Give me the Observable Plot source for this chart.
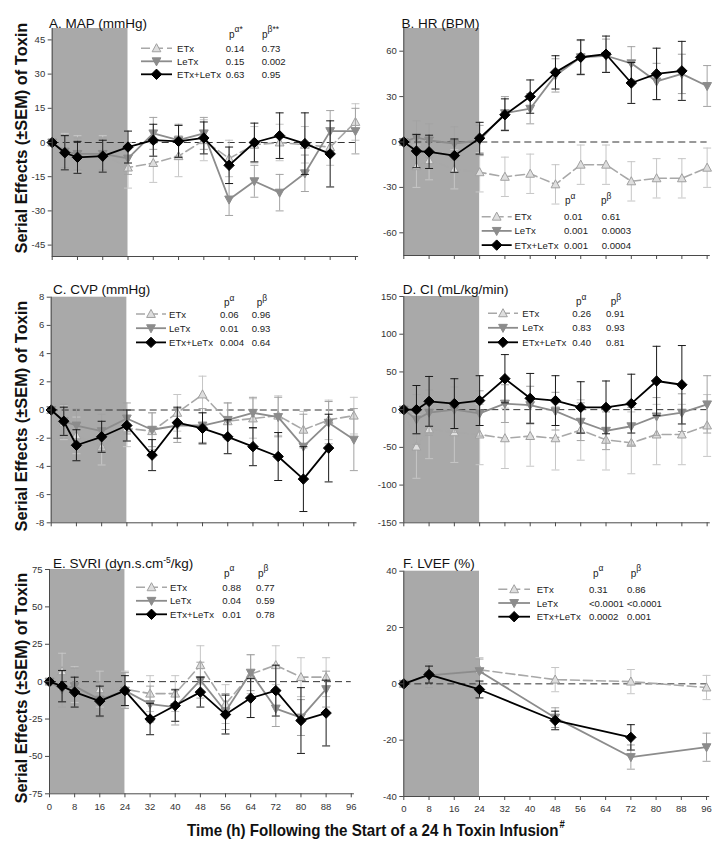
<!DOCTYPE html>
<html><head><meta charset="utf-8">
<script src="https://cdn.jsdelivr.net/npm/d3@7"></script>
<script src="https://cdn.jsdelivr.net/npm/@observablehq/plot@0.6"></script>
<style>
html,body{margin:0;padding:0;background:#fff;}
#fig{position:relative;width:720px;height:849px;font-family:"Liberation Sans",Arial,sans-serif;overflow:hidden;}
#fig svg.panel{position:absolute;}
#overlay{position:absolute;left:0;top:0;pointer-events:none;}
</style></head><body><div id="fig"></div>
<script>
// ---------------- data ----------------
const hours = [0,4,8,16,24,32,40,48,56,64,72,80,88,96];
const hoursF = [0,8,24,48,72,96];
const xTicks = [0,8,16,24,32,40,48,56,64,72,80,88,96];
const infusion = [0,24];
const seriesNames = ["ETx","LeTx","ETx+LeTx"];

// A. MAP
const mapE  = [0,-4,-5,-5,-11,-9,-6,1,-7,-1,0,-1,-2,9];
const mapEs = [0,8,8,8,9,8.5,9,9,8,8,8,8,8,8];
const mapL  = [0,-4,-5,-5,-7,4,1,4,-25,-17,-22,-13.5,5,5];
const mapLs = [0,7,7,7,7,7,7,7,7,7,8,8,9,10];
const mapB  = [0,-4.5,-6.5,-6,-2,1,0.5,2,-10,0,3,-0.5,-5,null];
const mapBs = [0,7.5,7,7,7,7,7,7,8,8.5,10,13.5,14.5,null];
const mapTicks = [-45,-30,-15,0,15,30,45];
const mapP = [["0.14","0.73"],["0.15","0.002"],["0.63","0.95"]];

// B. HR
const hrE  = [0,-16,-12,-18,-20,-23,-21,-28,-15,-15,-26,-24,-24,-17];
const hrEs = [0,14,13,13,13,13,13,13,13,13,13,13,13,13];
const hrL  = [0,3,1,-1,1,19,22,44,56,57,52,40,45,37];
const hrLs = [0,11,11,11,10,11,10,11,11,11,11,12,13,13.5];
const hrB  = [0,-6,-6.5,-9,2.5,18,30,46,56,58,39,45,47,null];
const hrBs = [0,11,11,11,10.5,10.5,11,11,11.5,12,13.5,17,19.5,null];
const hrTicks = [-60,-30,0,30,60];
const hrP = [["0.01","0.61"],["0.001","0.0003"],["0.001","0.0004"]];

// C. CVP
const cvpE  = [0,-0.9,-1.8,-2.6,-1.3,-1.5,-0.2,1.1,-0.8,-0.6,-0.4,-1.4,-0.7,-0.4];
const cvpEs = [0,1.2,1.3,1.3,1.3,1.3,1.3,1.3,1.3,1.4,1.4,1.3,1.4,1.3];
const cvpL  = [0,-0.8,-1.1,-1.5,-0.6,-1.4,-1.1,-1.1,-0.7,-0.2,-0.5,-2.6,-0.9,-2.1];
const cvpLs = [0,1.2,1.2,1.2,1.1,1.2,1.2,1.2,1.2,1.1,1.4,2.3,1.5,2.2];
const cvpB  = [0,-0.8,-2.5,-1.9,-1.1,-3.2,-0.9,-1.3,-1.9,-2.6,-3.3,-4.9,-2.7,null];
const cvpBs = [0,1.0,1.1,1.1,1.1,1.1,1.1,1.1,1.2,1.35,1.7,2.3,2.4,null];
const cvpTicks = [-8,-6,-4,-2,0,2,4,6,8];
const cvpP = [["0.06","0.96"],["0.01","0.93"],["0.004","0.64"]];

// D. CI
const ciE  = [0,-49,-26,-30,-33,-38,-35,-38,-27,-40,-44,-33,-33,-21];
const ciEs = [0,42,39,40,40,40,40,42,40,40,41,40,40,41];
const ciL  = [0,-13,-4,0,-5,8,6,-2,-16,-28,-22,-9,-4,7];
const ciLs = [0,33,30,30,30,25,25,25,25,25,25,25,25,38];
const ciB  = [0,0,11,8,12,41,15,12,3,3,8,38,33,null];
const ciBs = [0,32,33,33,33,32,33,33,34,35,39,46,52,null];
const ciTicks = [-150,-100,-50,0,50,100,150];
const ciP = [["0.26","0.91"],["0.83","0.93"],["0.40","0.81"]];

// E. SVRI
const svE  = [0,7,-2,-5,-5,-8,-8,11,-15,5,11,3,3,null];
const svEs = [0,12,12,12,12,12,12,13,13,13,13,13,13,null];
const svL  = [0,-5,-3,-12,-6,-15,-17,1,-20,6,-18,-24,-5,null];
const svLs = [0,12,12,12,12,12,12,12,12,12,12,12,12,null];
const svB  = [0,-3,-7,-13,-6,-25,-16,-7,-22,-11,-6,-26,-21,null];
const svBs = [0,10.5,10,10,10,10.5,10.5,10,13,13,17,22,22,null];
const svTicks = [-75,-50,-25,0,25,50,75];
const svP = [["0.88","0.77"],["0.04","0.59"],["0.01","0.78"]];

// F. LVEF
const lvE  = [0,3,5,1.5,0.8,-1.3];
const lvEs = [0,4.3,4.3,4.3,4.3,4.3];
const lvL  = [0,3,4.5,-12,-26,-22.5];
const lvLs = [0,4.3,4.3,3.5,4.3,5];
const lvB  = [0,3.3,-2,-13,-19,null];
const lvBs = [0,3,3,3.3,4.5,null];
const lvTicks = [-40,-20,0,20,40];
const lvP = [["0.31","0.86"],["<0.0001","<0.0001"],["0.0002","0.001"]];

// ---------------- symbols ----------------
const rOf = size => Math.sqrt(size / Math.PI);
const cap = {draw(c, s){const r = rOf(s); c.moveTo(-r,0); c.lineTo(r,0);}};
const triUp = {draw(c, s){const r = rOf(s); c.moveTo(0,-r); c.lineTo(r*0.95,r*0.75); c.lineTo(-r*0.95,r*0.75); c.closePath();}};
const triDown = {draw(c, s){const r = rOf(s); c.moveTo(0,r); c.lineTo(r*0.95,-r*0.75); c.lineTo(-r*0.95,-r*0.75); c.closePath();}};
const diamond = {draw(c, s){const r = rOf(s); c.moveTo(0,-r); c.lineTo(r,0); c.lineTo(0,r); c.lineTo(-r,0); c.closePath();}};

const styles = [
  {line:"#a8a8a8", dash:"9,4", width:1.6, err:"#c6c6c6", sym:triUp, r:4.6, fill:"#dedede", stroke:"#a0a0a0"},
  {line:"#8c8c8c", dash:null, width:1.8, err:"#a3a3a3", sym:triDown, r:4.6, fill:"#8c8c8c", stroke:"#8c8c8c"},
  {line:"#000000", dash:null, width:1.8, err:"#1a1a1a", sym:diamond, r:5.2, fill:"#000", stroke:"#000"}
];

// ---------------- panels ----------------
const panels = [
  {title:[["A. MAP (mmHg)"]], tx:49, ty:23, t:hours, vals:[mapE,mapL,mapB], sems:[mapEs,mapLs,mapBs], yDomain:[-50,50], yTicks:mapTicks, xLabels:false,
   box:{left:0,top:0,w:360,h:280,mL:51.7,mR:1.9,mT:28,mB:24}, p:mapP, heads:["α*","β**"],
   leg:{x1:141,x2:172,y:48.3,dy:13,lab:177,c1:225.7,c2:261.7,hy:37.5,h1:229,h2:262}},
  {title:[["B. HR (BPM)"]], tx:401.5, ty:23, t:hours, vals:[hrE,hrL,hrB], sems:[hrEs,hrLs,hrBs], yDomain:[-75,75], yTicks:hrTicks, xLabels:false,
   box:{left:360,top:0,w:360,h:280,mL:43.3,mR:10.2,mT:28,mB:25}, p:hrP, heads:["α","β"],
   leg:{x1:481.7,x2:511.7,y:216.7,dy:14.2,lab:514.5,c1:564,c2:601.7,hy:204,h1:565,h2:601}},
  {title:[["C. CVP (mmHg)"]], tx:53, ty:289, t:hours, vals:[cvpE,cvpL,cvpB], sems:[cvpEs,cvpLs,cvpBs], yDomain:[-8,8], yTicks:cvpTicks, xLabels:false,
   box:{left:0,top:280,w:360,h:280,mL:50.7,mR:3.5,mT:16.7,mB:37.7}, p:cvpP, heads:["α","β"],
   leg:{x1:136,x2:166,y:314,dy:14.2,lab:169,c1:220,c2:251.7,hy:306,h1:224,h2:256.7}},
  {title:[["D. CI (mL/kg/min)"]], tx:402.7, ty:289, t:hours, vals:[ciE,ciL,ciB], sems:[ciEs,ciLs,ciBs], yDomain:[-150,150], yTicks:ciTicks, xLabels:false,
   box:{left:360,top:280,w:360,h:280,mL:43.3,mR:10.2,mT:16,mB:37.7}, p:ciP, heads:["α","β"],
   leg:{x1:488,x2:518,y:313.3,dy:14.5,lab:522.3,c1:572.3,c2:606,hy:305,h1:576,h2:610.7}},
  {title:[["E. SVRI (dyn.s.cm"],["-5","sup"],["/kg)"]], tx:53, ty:563, t:hours, vals:[svE,svL,svB], sems:[svEs,svLs,svBs], yDomain:[-75,75], yTicks:svTicks, xLabels:true,
   box:{left:0,top:560,w:360,h:260,mL:49,mR:6.1,mT:9,mB:26.7}, p:svP, heads:["α","β"],
   leg:{x1:136,x2:167,y:587.3,dy:13.5,lab:170,c1:222.3,c2:256,hy:576.7,h1:224,h2:258}},
  {title:[["F. LVEF (%)"]], tx:403, ty:563, t:hoursF, vals:[lvE,lvL,lvB], sems:[lvEs,lvLs,lvBs], yDomain:[-40,40], yTicks:lvTicks, xLabels:true,
   box:{left:360,top:560,w:360,h:260,mL:43.3,mR:10.8,mT:10.7,mB:24}, p:lvP, heads:["α","β"],
   leg:{x1:498.3,x2:530,y:589.3,dy:13.7,lab:536.7,c1:589,c2:627,hy:576.7,h1:593,h2:630.7}}
];

const fig = document.getElementById("fig");
const AX = "#4a4a4a";

panels.forEach(P => {
  const marks = [];
  marks.push(Plot.rect([infusion], {x1: d => d[0], x2: d => d[1], y1: P.yDomain[0], y2: P.yDomain[1], fill: "#a9a9a9"}));
  marks.push(Plot.ruleY([0], {x1: 0, x2: 96, stroke: "#333", strokeWidth: 1, strokeDasharray: "7,4"}));
  P.vals.forEach((vals, i) => {
    const S = styles[i];
    const rows = P.t.map((t, j) => ({t, v: vals[j], s: P.sems[i][j]})).filter(d => d.v != null);
    const er = rows.filter(d => d.s > 0).map(d => ({t: d.t, lo: d.v - d.s, hi: d.v + d.s}));
    marks.push(Plot.ruleX(er, {x: "t", y1: "lo", y2: "hi", stroke: S.err, strokeWidth: 1}));
    marks.push(Plot.dot(er, {x: "t", y: "lo", symbol: cap, r: 4, stroke: S.err, fill: "none", strokeWidth: 1}));
    marks.push(Plot.dot(er, {x: "t", y: "hi", symbol: cap, r: 4, stroke: S.err, fill: "none", strokeWidth: 1}));
    marks.push(Plot.line(rows, {x: "t", y: "v", stroke: S.line, strokeWidth: S.width, strokeDasharray: S.dash}));
    marks.push(Plot.dot(rows, {x: "t", y: "v", symbol: S.sym, r: S.r, fill: S.fill, stroke: S.stroke, strokeWidth: 1}));
  });
  marks.push(Plot.ruleX([0], {y1: P.yDomain[0], y2: P.yDomain[1], stroke: AX, strokeWidth: 1}));
  marks.push(Plot.ruleY([P.yDomain[0]], {x1: 0, x2: 97, stroke: AX, strokeWidth: 1}));
  marks.push(Plot.axisY({ticks: P.yTicks, tickSize: 4, tickPadding: 3, tickFormat: d => String(d), label: null, stroke: AX, fill: "#333"}));
  marks.push(Plot.axisX({ticks: xTicks, tickSize: 4, tickPadding: 5, tickFormat: P.xLabels ? (d => String(d)) : (() => ""), label: null, stroke: AX, fill: "#333"}));

  const b = P.box;
  const svg = Plot.plot({
    width: b.w, height: b.h,
    marginLeft: b.mL, marginRight: b.mR, marginTop: b.mT, marginBottom: b.mB,
    x: {domain: [0, 97]},
    y: {domain: P.yDomain},
    style: {background: "transparent", fontFamily: "'Liberation Sans', Arial, sans-serif", fontSize: "9.5px", color: "#333", overflow: "visible"},
    marks
  });
  svg.classList.add("panel");
  svg.style.left = b.left + "px";
  svg.style.top = b.top + "px";
  fig.appendChild(svg);
});

// ---------------- overlay texts & legends ----------------
const ov = d3.select(fig).append("svg").attr("id", "overlay").attr("width", 720).attr("height", 849)
  .style("font-family", "'Liberation Sans', Arial, sans-serif");

panels.forEach(P => {
  const t = ov.append("text").attr("x", P.tx).attr("y", P.ty).attr("font-size", 13.5).attr("fill", "#111");
  P.title.forEach(seg => {
    if (seg[1] === "sup") t.append("tspan").attr("dy", -5).attr("font-size", 8.5).text(seg[0]);
    else t.append("tspan").attr("dy", t.selectAll("tspan").size() ? 5 : 0).text(seg[0]);
  });
  const L = P.leg;
  const g = ov.append("g").attr("font-size", 9.6).attr("fill", "#222");
  [[L.h1, P.heads[0]], [L.h2, P.heads[1]]].forEach(([x, h]) => {
    const tt = g.append("text").attr("x", x).attr("y", L.hy).attr("font-size", 10).text("p");
    tt.append("tspan").attr("dy", -5.5).attr("font-size", 8.5).text(h);
  });
  seriesNames.forEach((name, i) => {
    const S = styles[i];
    const y = L.y + i * L.dy;
    g.append("line").attr("x1", L.x1).attr("x2", L.x2).attr("y1", y).attr("y2", y)
      .attr("stroke", S.line).attr("stroke-width", S.width).attr("stroke-dasharray", S.dash);
    g.append("path").attr("transform", `translate(${(L.x1 + L.x2) / 2},${y})`)
      .attr("d", d3.symbol(S.sym, S.r * S.r * Math.PI)()).attr("fill", S.fill).attr("stroke", S.stroke);
    g.append("text").attr("x", L.lab).attr("y", y + 3.5).text(name);
    g.append("text").attr("x", L.c1).attr("y", y + 3.5).text(P.p[i][0]);
    g.append("text").attr("x", L.c2).attr("y", y + 3.5).text(P.p[i][1]);
  });
});

// condensed bold axis titles (scaled horizontally to the reference's narrow type)
function condensed(parent, transform, targetLen, anchorMiddle, build) {
  const g = parent.append("g");
  const t = g.append("text").attr("font-size", 16).attr("font-weight", "bold").attr("fill", "#111");
  build(t);
  const len = t.node().getComputedTextLength();
  const k = targetLen / len;
  if (anchorMiddle) t.attr("x", -len / 2);
  g.attr("transform", `${transform} scale(${k},1)`);
}
[138, 416, 688].forEach(cy => {
  condensed(ov, `translate(27,${cy}) rotate(-90)`, 231, true, t => t.text("Serial Effects (±SEM) of Toxin"));
});
condensed(ov, `translate(187,836)`, 377, false, t => {
  t.append("tspan").text("Time (h) Following  the Start of a 24 h Toxin Infusion");
  t.append("tspan").attr("dy", -8).attr("dx", 1).attr("font-size", 10).text("#");
});
</script></body></html>
